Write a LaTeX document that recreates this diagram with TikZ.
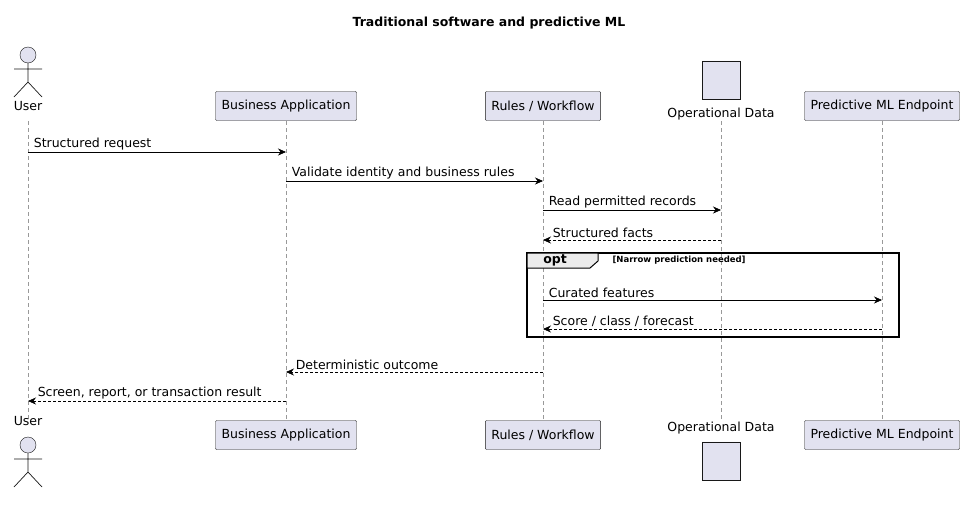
\documentclass[tikz,border=0pt]{standalone}
\usepackage{fontspec}
\setmainfont{DejaVu Sans}
\usetikzlibrary{arrows.meta,shapes.geometric}
\definecolor{partfill}{HTML}{E2E2F0}
\definecolor{partline}{HTML}{181818}
\tikzset{
  part/.style={draw=partline, fill=partfill, rounded corners=1pt, minimum height=29pt, inner xsep=6pt, font=\fontsize{12.5}{14}\selectfont},
  lifeline/.style={draw=gray!80, dashed, dash pattern=on 4pt off 3pt, line width=0.6pt},
  msg/.style={-{Stealth[length=8pt,width=7pt]}, line width=0.7pt},
  reply/.style={msg, dash pattern=on 3pt off 2pt},
  lbl/.style={font=\fontsize{12.5}{14}\selectfont, above right, inner sep=1.5pt},
  dbase/.style={cylinder, shape border rotate=90, draw=partline, fill=partfill, aspect=1.3, minimum width=38pt, minimum height=38pt, inner sep=0pt},
}
\begin{document}
\begin{tikzpicture}[x=1pt, y=-1pt]
\useasboundingbox (0,0) rectangle (979,506);

\def \xuser {28};
\def \xbiz  {286};
\def \xrule {543};
\def \xdata {721};
\def \xpred {882};

\node [font=\bfseries\fontsize{12.5}{14}\selectfont] (title) at (489, 23) {Traditional software and predictive ML};

% lifelines
\foreach \x in {\xuser, \xbiz, \xrule, \xdata, \xpred}
  \draw [lifeline] (\x, 121) -- (\x, 420);

% participants, top and bottom
\foreach \y/\s in {106/top, 435/bot} {
  \node [part] (biz\s)  at (\xbiz, \y)  {Business Application};
  \node [part] (rule\s) at (\xrule, \y) {Rules / Workflow};
  \node [part] (pred\s) at (\xpred, \y) {Predictive ML Endpoint};
}

% actor
\foreach \yh/\yl/\s in {55/106/top, 445/421/bot} {
  \draw [draw=partline, fill=partfill] (\xuser, \yh) circle (8);
  \draw [partline, line width=0.7pt] (\xuser, \yh+8) -- (\xuser, \yh+27)
    (\xuser-14, \yh+14) -- (\xuser+14, \yh+14)
    (\xuser-14, \yh+42) -- (\xuser, \yh+27) -- (\xuser+14, \yh+42);
  \node [font=\fontsize{12.5}{14}\selectfont] (user\s) at (\xuser, \yl) {User};
}

% database
\node [dbase] (datatop) at (\xdata, 80) {};
\node [font=\fontsize{12.5}{14}\selectfont] (datatoplbl) at (\xdata, 114) {Operational Data};
\node [dbase] (databot) at (\xdata, 461) {};
\node [font=\fontsize{12.5}{14}\selectfont] (databotlbl) at (\xdata, 428) {Operational Data};

% messages
\coordinate (u1) at (\xuser, 152); \coordinate (b1) at (\xbiz, 152);
\draw [msg] (u1) -- (b1) node [lbl, pos=0] {\ Structured request};
\coordinate (b2) at (\xbiz, 181); \coordinate (r2) at (\xrule, 181);
\draw [msg] (b2) -- (r2) node [lbl, pos=0] {\ Validate identity and business rules};
\coordinate (r3) at (\xrule, 210); \coordinate (d3) at (\xdata, 210);
\draw [msg] (r3) -- (d3) node [lbl, pos=0] {\ Read permitted records};
\coordinate (d4) at (\xdata, 240); \coordinate (r4) at (\xrule, 240);
\draw [reply] (d4) -- (r4) node [lbl, pos=1] {\ \ Structured facts};

% opt frame
\draw [line width=1.2pt] (527, 253) rectangle (899, 337);
\draw [fill=gray!15, line width=1pt] (527, 253) -- (598, 253) -- (598, 261) -- (590, 268) -- (527, 268) -- cycle;
\node [font=\bfseries\fontsize{12.5}{14}\selectfont] (opttag) at (555, 260.5) {opt};
\node [font=\bfseries\fontsize{8.5}{10}\selectfont, anchor=west] (optcond) at (609, 260) {[Narrow prediction needed]};

\coordinate (r5) at (\xrule, 300); \coordinate (p5) at (\xpred, 300);
\draw [msg] (r5) -- (p5) node [lbl, pos=0] {\ Curated features};
\coordinate (p6) at (\xpred, 329); \coordinate (r6) at (\xrule, 329);
\draw [reply] (p6) -- (r6) node [lbl, pos=1] {\ \ Score / class / forecast};

\coordinate (r7) at (\xrule, 372); \coordinate (b7) at (\xbiz, 372);
\draw [reply] (r7) -- (b7) node [lbl, pos=1] {\ \ Deterministic outcome};
\coordinate (b8) at (\xbiz, 401); \coordinate (u8) at (\xuser, 401);
\draw [reply] (b8) -- (u8) node [lbl, pos=1] {\ \ Screen, report, or transaction result};
\end{tikzpicture}
\end{document}
